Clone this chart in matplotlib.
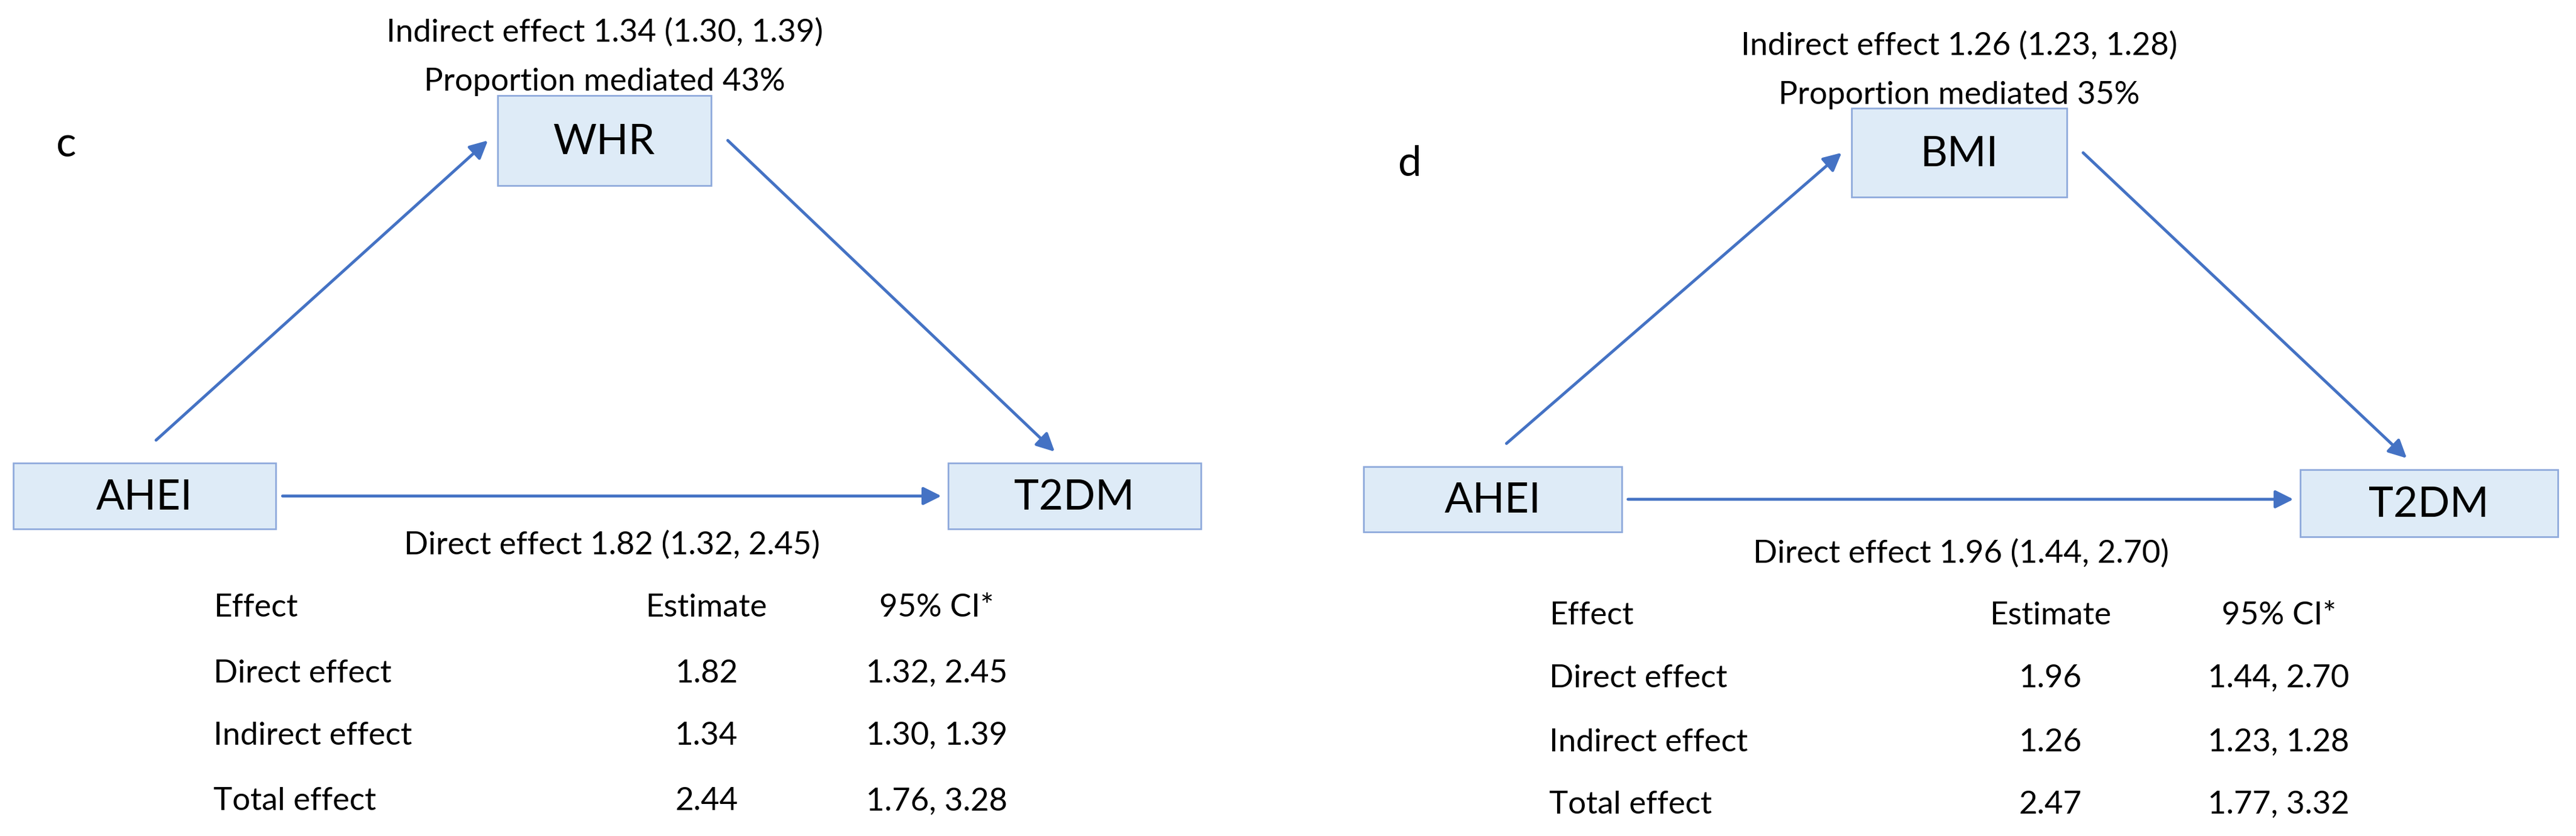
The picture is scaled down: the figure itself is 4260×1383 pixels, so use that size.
import matplotlib.pyplot as plt
from matplotlib.patches import Rectangle, FancyArrowPatch

plt.rcParams['font.family'] = ['Lato', 'DejaVu Sans']

# panel data
panels = ['c', 'd']
mediators = ['WHR', 'BMI']
indirect = ['1.34 (1.30, 1.39)', '1.26 (1.23, 1.28)']
proportion = ['43%', '35%']
direct = ['1.82 (1.32, 2.45)', '1.96 (1.44, 2.70)']
effects = ['Direct effect', 'Indirect effect', 'Total effect']
estimates = [['1.82', '1.34', '2.44'], ['1.96', '1.26', '2.47']]
cis = [['1.32, 2.45', '1.30, 1.39', '1.76, 3.28'],
       ['1.44, 2.70', '1.23, 1.28', '1.77, 3.32']]

BOX_FC = '#DEEBF7'
BOX_EC = '#8FAADC'
ARROW = '#4472C4'

fig = plt.figure(figsize=(42.6, 13.83), dpi=100)
ax = fig.add_axes([0, 0, 1, 1])
ax.set_xlim(0, 1568)
ax.set_ylim(509, 0)
ax.axis('off')

# layout per panel (display coords)
layout = [
    dict(dx=0, dy=0, letter=(40, 88), med=(303, 58, 130, 55), ahei=(8, 282, 160, 40),
         t2=(577, 282, 154, 40), tx=(130, 370, 430, 570), rows=[370, 410, 448, 488]),
    dict(dx=0, dy=0, letter=(858, 100), med=(1127, 66, 131, 54), ahei=(830, 284, 157, 40),
         t2=(1400, 286, 157, 41), tx=(943, 375, 1248, 1387), rows=[375, 413, 452, 490]),
]

def box(x, y, w, h, label):
    ax.add_patch(Rectangle((x, y), w, h, fc=BOX_FC, ec=BOX_EC, lw=2))
    ax.text(x + w / 2, y + h / 2 + 1, label, ha='center', va='center', fontsize=50)

def arrow(p1, p2):
    ax.add_patch(FancyArrowPatch(p1, p2, arrowstyle='-|>', mutation_scale=45,
                                 color=ARROW, lw=3.5, shrinkA=0, shrinkB=0))

for i, L in enumerate(layout):
    ax.text(*L['letter'], panels[i], fontsize=50, ha='center', va='center')
    mx, my, mw, mh = L['med']
    ax_, ay, aw, ah = L['ahei']
    tx_, ty, tw, th = L['t2']
    box(mx, my, mw, mh, mediators[i])
    box(ax_, ay, aw, ah, 'AHEI')
    box(tx_, ty, tw, th, 'T2DM')
    cx = mx + mw / 2
    ax.text(cx, my - 38, f'Indirect effect {indirect[i]}', ha='center', va='center', fontsize=38)
    ax.text(cx, my - 8, f'Proportion mediated {proportion[i]}', ha='center', va='center', fontsize=38)
    arrow((ax_ + 87, ay - 14), (mx - 6, my + mh / 2))
    arrow((mx + mw + 10, my + mh / 2), (tx_ + 65, ty - 7))
    arrow((ax_ + aw + 4, ay + ah / 2), (tx_ - 4, ay + ah / 2))
    ax.text((ax_ + aw + tx_) / 2, ty + th + 10, f'Direct effect {direct[i]}',
            ha='center', va='center', fontsize=38)
    x0, _, xe, xc = L['tx']
    rows = L['rows']
    ax.text(x0, rows[0], 'Effect', ha='left', va='center', fontsize=38)
    ax.text(xe, rows[0], 'Estimate', ha='center', va='center', fontsize=38)
    ax.text(xc, rows[0], '95% CI*', ha='center', va='center', fontsize=38)
    for j, e in enumerate(effects):
        ax.text(x0, rows[j + 1], e, ha='left', va='center', fontsize=38)
        ax.text(xe, rows[j + 1], estimates[i][j], ha='center', va='center', fontsize=38)
        ax.text(xc, rows[j + 1], cis[i][j], ha='center', va='center', fontsize=38)

fig.savefig('out.png', dpi=100, facecolor='white')
